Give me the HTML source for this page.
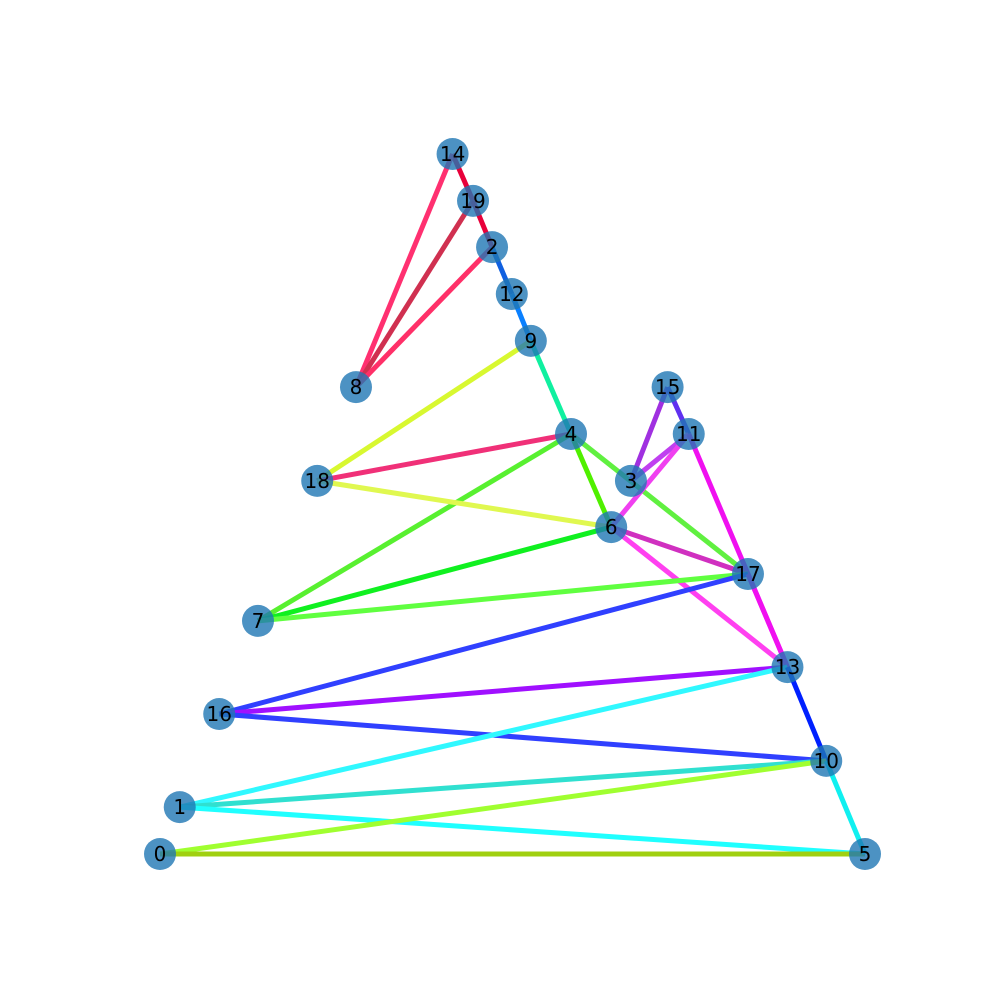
<!DOCTYPE html>
<html><head><meta charset="utf-8">
<style>html,body{margin:0;padding:0;background:#fff;}svg{display:block;}</style>
</head><body>
<svg id="chart" width="1000" height="1000" xmlns="http://www.w3.org/2000/svg">
<rect width="1000" height="1000" fill="#fff"/>
<g id="edges"></g>
<g id="nodes"></g>
</svg>
<script>
const nodeIds = [0,1,2,3,4,5,6,7,8,9,10,11,12,13,14,15,16,17,18,19];
const nodeX = [0,0.028,0.471,0.668,0.583,1,0.64,0.139,0.278,0.526,0.945,0.75,0.499,0.89,0.415,0.72,0.084,0.834,0.223,0.444];
const nodeY = [0,0.067,0.867,0.533,0.6,0,0.467,0.333,0.667,0.733,0.133,0.6,0.8,0.267,1,0.667,0.2,0.4,0.533,0.933];
const edgeSrc = [14,14,19,19,2,2,12,9,9,4,4,4,4,18,15,15,11,11,11,6,6,6,7,17,17,16,16,13,13,1,1,0,0,10];
const edgeDst = [19,8,8,2,8,12,9,18,4,18,6,7,17,6,3,11,3,6,13,7,17,13,17,16,13,13,10,1,10,10,5,10,5,5];
const edgeColor = ["#e8003a","#ff3070","#d03050","#e8003a","#ff3068","#1060e0","#0a80ff","#d8f830","#10f0a0","#f03078","#50f000","#58f030","#60f040","#e0f850","#a030e0","#6030f0","#c040f0","#f040f0","#f010f0","#10f020","#d030c0","#ff40f0","#60ff40","#3040ff","#f010f0","#a010ff","#3040ff","#30f8ff","#0020ff","#30e0d0","#20ffff","#a0ff30","#a0d010","#10f0f0"];
function sx(v){return 160 + v*705;}
function sy(v){return 854 - v*700;}
const NS="http://www.w3.org/2000/svg";
const eg=document.getElementById('edges'), ng=document.getElementById('nodes');
for(let i=0;i<edgeSrc.length;i++){
  const a=edgeSrc[i], b=edgeDst[i];
  const l=document.createElementNS(NS,'line');
  l.setAttribute('x1',sx(nodeX[a]));l.setAttribute('y1',sy(nodeY[a]));
  l.setAttribute('x2',sx(nodeX[b]));l.setAttribute('y2',sy(nodeY[b]));
  l.setAttribute('stroke',edgeColor[i]);l.setAttribute('stroke-width',5);
  
  
  eg.appendChild(l);
}
for(let i=0;i<nodeIds.length;i++){
  const g=document.createElementNS(NS,'g');
  
  
  const c=document.createElementNS(NS,'circle');
  c.setAttribute('cx',sx(nodeX[i]));c.setAttribute('cy',sy(nodeY[i]));c.setAttribute('r',16);
  c.setAttribute('fill','#1f77b4');c.setAttribute('fill-opacity','0.8');
  
  
  const t=document.createElementNS(NS,'text');
  t.setAttribute('x',sx(nodeX[i]));t.setAttribute('y',sy(nodeY[i])+7);
  t.setAttribute('text-anchor','middle');
  t.setAttribute('font-family','"DejaVu Sans","Liberation Sans",sans-serif');
  t.setAttribute('font-size','20');t.setAttribute('fill','#000');
  
  
  t.textContent=nodeIds[i];
  g.appendChild(c);g.appendChild(t);ng.appendChild(g);
}
</script>
</body></html>
